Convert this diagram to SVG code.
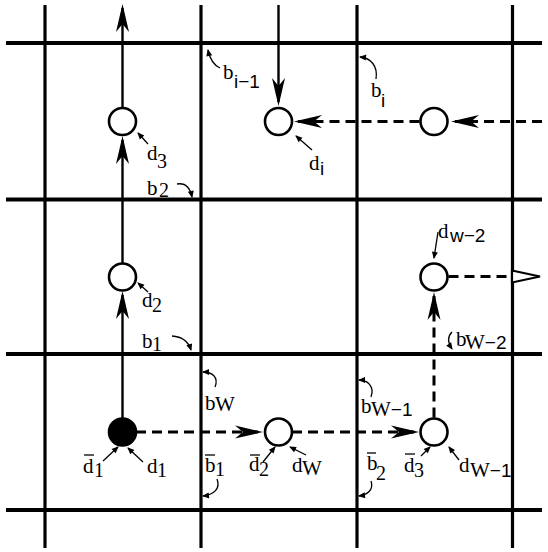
<svg xmlns="http://www.w3.org/2000/svg" width="548" height="552" viewBox="0 0 548 552">
<style>
.grid line{stroke:#000;stroke-width:3.2}
.grid .h{stroke-width:4}
.sol{stroke:#000;stroke-width:2.4;fill:none}
.dash{stroke:#000;stroke-width:3;fill:none;stroke-dasharray:10,6}
.node{fill:#fff;stroke:#000;stroke-width:2.6}
.filled{fill:#000;stroke:#000;stroke-width:2.6}
.lead{stroke:#000;stroke-width:1.3;fill:none}
.bar{stroke:#000;stroke-width:1.3}
text{font-family:"Liberation Serif","Times New Roman",serif;font-size:21px;fill:#000}
.s{font-size:20px}
.ss{font-family:"Liberation Sans",Arial,sans-serif;font-size:19px}
</style>
<defs>
<marker id="ah" markerUnits="userSpaceOnUse" markerWidth="30" markerHeight="18" refX="24" refY="9" orient="auto" overflow="visible">
<path d="M28,9 L0,2.5 L8,9 L0,15.5 Z" fill="#000"/>
</marker>
<marker id="sa" markerUnits="userSpaceOnUse" markerWidth="8" markerHeight="6" refX="6" refY="3" orient="auto" overflow="visible">
<path d="M0,0 L7,3 L0,6 Z" fill="#000"/>
</marker>
</defs>
<rect width="548" height="552" fill="#fff"/>
<g class="grid" id="grid">
<line class="h" x1="6" y1="43" x2="542" y2="43"/>
<line class="h" x1="6" y1="199.5" x2="542" y2="199.5"/>
<line class="h" x1="6" y1="354" x2="542" y2="354"/>
<line class="h" x1="6" y1="510" x2="542" y2="510"/>
<line x1="45" y1="5" x2="45" y2="548"/>
<line x1="201" y1="5" x2="201" y2="548"/>
<line x1="357" y1="5" x2="357" y2="548"/>
<line x1="512.5" y1="5" x2="512.5" y2="548"/>
</g>
<g id="connectors">
<path class="sol" d="M122.5,418 L122.5,295" marker-end="url(#ah)"/>
<path class="sol" d="M122.5,263 L122.5,140" marker-end="url(#ah)"/>
<path class="sol" d="M122.5,107 L122.5,8" marker-end="url(#ah)"/>
<path class="sol" d="M278.5,5 L278.5,102" marker-end="url(#ah)"/>
<path class="dash" d="M542,121.5 L455,121.5" marker-end="url(#ah)"/>
<path class="dash" d="M419.5,121.5 L298,121.5" marker-end="url(#ah)"/>
<path class="dash" d="M136,432 L259,432" marker-end="url(#ah)"/>
<path class="dash" d="M292,432 L415,432" marker-end="url(#ah)"/>
<path class="dash" d="M434,417.5 L434,296" marker-end="url(#ah)"/>
<path class="dash" d="M448.5,276.5 L512,276.5"/>
<polygon points="512,270.5 540,276.5 512,282.5" fill="#fff" stroke="#000" stroke-width="2.2"/>
</g>
<g id="n-d1"><circle class="filled" cx="122.5" cy="432" r="13.5"/></g>
<g id="n-d2"><circle class="node" cx="122.5" cy="277" r="13.5"/></g>
<g id="n-d3"><circle class="node" cx="122.5" cy="121.5" r="13.5"/></g>
<g id="n-di"><circle class="node" cx="278.5" cy="121.5" r="13.5"/></g>
<g id="n-tr"><circle class="node" cx="434" cy="121.5" r="13.5"/></g>
<g id="n-dw2"><circle class="node" cx="434" cy="277" r="13.5"/></g>
<g id="n-d2bar"><circle class="node" cx="278.5" cy="432" r="13.5"/></g>
<g id="n-d3bar"><circle class="node" cx="434" cy="432" r="13.5"/></g>
<g id="labels">
<g id="l-bi1"><path class="lead" d="M220,68 Q211,64 208,50" marker-end="url(#sa)"/><text x="223" y="79">b</text><text class="ss" x="234" y="88">i−1</text></g>
<g id="l-bi"><path class="lead" d="M376,79 C378,66 371,58 360,57" marker-end="url(#sa)"/><text x="371" y="97">b</text><text class="ss" x="381" y="107">i</text></g>
<g id="l-di"><path class="lead" d="M312,150 L296,136" marker-end="url(#sa)"/><text x="309" y="170">d</text><text class="ss" x="320" y="175">i</text></g>
<g id="l-d3"><path class="lead" d="M148,144 L138,133" marker-end="url(#sa)"/><text x="147" y="160">d</text><text class="s" x="157" y="168">3</text></g>
<g id="l-b2"><path class="lead" d="M177,184 Q189,182 192,197" marker-end="url(#sa)"/><text x="147" y="195">b</text><text class="s" x="159" y="197">2</text></g>
<g id="l-d2"><path class="lead" d="M148,292 L138,283" marker-end="url(#sa)"/><text x="142" y="307">d</text><text class="s" x="152" y="312">2</text></g>
<g id="l-b1"><path class="lead" d="M172,336 Q187,337 191,350" marker-end="url(#sa)"/><text x="142" y="348">b</text><text class="s" x="152" y="351">1</text></g>
<g id="l-bW"><path class="lead" d="M215,387 C219,377 212,372 203,372" marker-end="url(#sa)"/><text x="205" y="410">b</text><text x="215" y="411">W</text></g>
<g id="l-d1bar"><path class="lead" d="M103,461 L118,447" marker-end="url(#sa)"/><line class="bar" x1="84" y1="455" x2="94" y2="455"/><text x="83" y="473">d</text><text class="s" x="94" y="477">1</text></g>
<g id="l-d1"><path class="lead" d="M143,462 L128,448" marker-end="url(#sa)"/><text x="147" y="473">d</text><text class="s" x="157" y="477">1</text></g>
<g id="l-b1bar"><path class="lead" d="M217,479 C221,489 213,495 203,496" marker-end="url(#sa)"/><line class="bar" x1="205" y1="455" x2="215" y2="455"/><text x="205" y="472">b</text><text class="s" x="215" y="476">1</text></g>
<g id="l-d2bar"><path class="lead" d="M263,462 L275,447" marker-end="url(#sa)"/><line class="bar" x1="250" y1="455" x2="260" y2="455"/><text x="249" y="471">d</text><text class="s" x="259" y="476">2</text></g>
<g id="l-dW"><path class="lead" d="M306,455 L290,447" marker-end="url(#sa)"/><text x="292" y="472">d</text><text x="302" y="475">W</text></g>
<g id="l-bW1"><path class="lead" d="M371,397 C375,386 367,380 359,380" marker-end="url(#sa)"/><text x="361" y="413">b</text><text x="371" y="416">W<tspan class="ss">−1</tspan></text></g>
<g id="l-b2bar"><path class="lead" d="M371,481 C374,490 367,495 359,496" marker-end="url(#sa)"/><line class="bar" x1="367" y1="453" x2="376" y2="453"/><text x="367" y="470">b</text><text class="s" x="376" y="480">2</text></g>
<g id="l-d3bar"><path class="lead" d="M421,456 L430,447" marker-end="url(#sa)"/><line class="bar" x1="405" y1="454" x2="415" y2="454"/><text x="404" y="472">d</text><text class="s" x="414" y="477">3</text></g>
<g id="l-dW1"><path class="lead" d="M459,460 L449,447" marker-end="url(#sa)"/><text x="459" y="472">d</text><text x="470" y="477">W<tspan class="ss">−1</tspan></text></g>
<g id="l-dw2"><path class="lead" d="M438,232 L434,258" marker-end="url(#sa)"/><text x="438" y="238">d</text><text class="ss" x="450" y="242">w−2</text></g>
<g id="l-bW2"><path class="lead" d="M452,332 C447,337 448,343 452,349" marker-end="url(#sa)"/><text x="456" y="346">b</text><text x="465" y="349">W<tspan class="ss">−2</tspan></text></g>
</g>
</svg>
